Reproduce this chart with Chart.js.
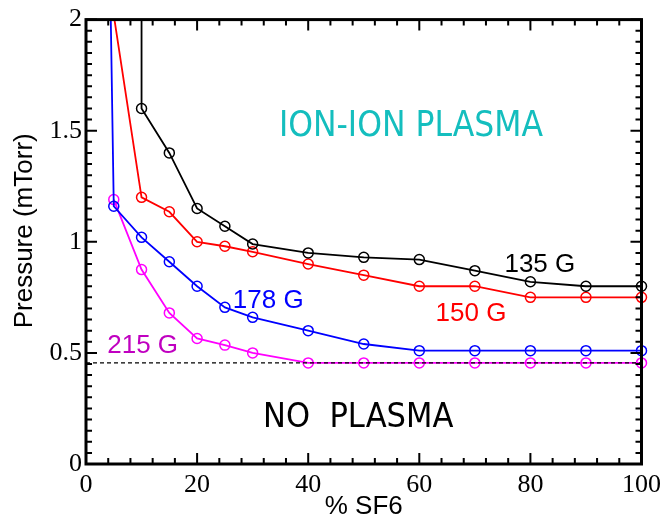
<!DOCTYPE html>
<html>
<head>
<meta charset="utf-8">
<script src="https://cdn.jsdelivr.net/npm/chart.js@4/dist/chart.umd.min.js"></script>
<style>
html,body{margin:0;padding:0;background:#fff;}
#wrap{width:667px;height:523px;position:relative;}
</style>
</head>
<body>
<div id="wrap"><canvas id="c" width="667" height="523"></canvas></div>
<script>
// ---- data ----
const sf6 = [5, 10, 15, 20, 25, 30, 40, 50, 60, 70, 80, 90, 100];
const p135 = [null, 1.60, 1.40, 1.15, 1.07, 0.99, 0.95, 0.93, 0.92, 0.87, 0.82, 0.80, 0.80];
const p150 = [null, 1.20, 1.135, 1.00, 0.98, 0.955, 0.90, 0.85, 0.80, 0.80, 0.75, 0.75, 0.75];
const p178 = [1.16, 1.02, 0.91, 0.80, 0.705, 0.66, 0.60, 0.54, 0.51, 0.51, 0.51, 0.51, 0.51];
const p215 = [1.19, 0.875, 0.68, 0.565, 0.535, 0.50, 0.455, 0.455, 0.455, 0.455, 0.455, 0.455, 0.455];
// entry points of each curve (coming in from above the plot)
const lead135 = [10, 2.6];
const lead150 = [5, 2.02];
const lead178 = [4.4, 2.1];
const thresholdX = [0, 100];
const thresholdY = [0.455, 0.455];
const xTicks = [0, 20, 40, 60, 80, 100];
const yTicks = [0, 0.5, 1, 1.5, 2];
const seriesNames = ['135 G', '150 G', '178 G', '215 G'];

function pts(xs, ys, lead) {
  const out = [];
  if (lead) out.push({x: lead[0], y: lead[1]});
  xs.forEach((x, i) => { if (ys[i] !== null) out.push({x: x, y: ys[i]}); });
  return out;
}
function radii(data, lead) { return data.map((d, i) => (lead && i === 0) ? 0 : 5); }

const d135 = pts(sf6, p135, lead135);
const d150 = pts(sf6, p150, lead150);
const d178 = pts(sf6, p178, lead178);
const d215 = pts(sf6, p215, null);

const clipOpt = {left: 8, top: 0, right: 8, bottom: 8};
function series(label, data, color, lead) {
  return {
    label: label, data: data, borderColor: color, backgroundColor: 'rgba(0,0,0,0)',
    borderWidth: 1.8, pointRadius: radii(data, lead), pointBorderWidth: 1.5,
    pointBorderColor: color, pointBackgroundColor: 'rgba(0,0,0,0)', tension: 0, clip: clipOpt
  };
}

// ---- annotations (text, data coords of baseline centre) ----
const notes = [
  {text: 'ION-ION PLASMA', x: 58.5, y: 1.478, color: 'rgb(20,190,190)', font: '35px "DejaVu Sans Condensed", "DejaVu Sans", sans-serif'},
  {text: 'NO  PLASMA', x: 49.0, y: 0.1665, color: '#000', font: '34px "DejaVu Sans Condensed", "DejaVu Sans", sans-serif'},
  {text: seriesNames[0], x: 81.7, y: 0.866, color: '#000', font: '26px "Liberation Sans", Arial, sans-serif'},
  {text: seriesNames[1], x: 69.3, y: 0.643, color: '#ff0000', font: '26px "Liberation Sans", Arial, sans-serif'},
  {text: seriesNames[2], x: 32.8, y: 0.701, color: '#0000ff', font: '26px "Liberation Sans", Arial, sans-serif'},
  {text: seriesNames[3], x: 10.2, y: 0.50, color: 'rgb(192,0,192)', font: '26px "Liberation Sans", Arial, sans-serif'}
];

const framePlugin = {
  id: 'frame',
  afterDatasetsDraw(chart) {
    const {ctx, chartArea: a, scales: {x, y}} = chart;
    ctx.save();
    ctx.strokeStyle = '#000';
    ctx.lineWidth = 2;
    ctx.beginPath();
    for (let i = 0; i <= 25; i++) {
      const v = i * 4;
      const px = x.getPixelForValue(v);
      const len = (v % 20 === 0) ? 11 : 6;
      ctx.moveTo(px, a.bottom); ctx.lineTo(px, a.bottom - len);
      ctx.moveTo(px, a.top); ctx.lineTo(px, a.top + len);
    }
    for (let i = 0; i <= 40; i++) {
      const v = i * 0.05;
      const py = y.getPixelForValue(v);
      const len = (i % 10 === 0) ? 11 : 6;
      ctx.moveTo(a.left, py); ctx.lineTo(a.left + len, py);
      ctx.moveTo(a.right, py); ctx.lineTo(a.right - len, py);
    }
    ctx.stroke();
    ctx.lineWidth = 3;
    ctx.strokeRect(a.left, a.top, a.right - a.left, a.bottom - a.top);
    // annotations
    ctx.textAlign = 'center';
    ctx.textBaseline = 'alphabetic';
    notes.forEach(n => {
      ctx.font = n.font;
      ctx.fillStyle = n.color;
      ctx.fillText(n.text, x.getPixelForValue(n.x), y.getPixelForValue(n.y));
    });
    // y axis title
    ctx.save();
    ctx.translate(25, (a.top + a.bottom) / 2 - 11);
    ctx.rotate(-Math.PI / 2);
    ctx.font = '26px "Liberation Sans", Arial, sans-serif';
    ctx.fillStyle = '#000';
    ctx.textBaseline = 'middle';
    ctx.fillText('Pressure (mTorr)', 0, 0);
    ctx.restore();
    ctx.restore();
  }
};

new Chart(document.getElementById('c'), {
  type: 'line',
  data: {
    datasets: [
      {label: 'threshold', data: pts(thresholdX, thresholdY, null), borderColor: '#000', borderWidth: 1.2,
       borderDash: [4, 3], pointRadius: 0, fill: false, clip: 0},
      series(seriesNames[0], d135, '#000000', lead135),
      series(seriesNames[1], d150, '#ff0000', lead150),
      series(seriesNames[2], d178, '#0000ff', lead178),
      series(seriesNames[3], d215, '#ff00ff', null)
    ]
  },
  options: {
    responsive: false,
    animation: false,
    events: [],
    layout: {padding: {top: 16, right: 24, left: 0, bottom: 0}},
    plugins: {legend: {display: false}, tooltip: {enabled: false}},
    scales: {
      x: {
        type: 'linear', min: 0, max: 100,
        afterBuildTicks: s => { s.ticks = xTicks.map(v => ({value: v})); },
        afterFit: s => { s.height = 59; },
        grid: {display: false, drawTicks: false},
        border: {display: false},
        ticks: {autoSkip: false, maxRotation: 0, padding: 6, color: '#000',
                callback: v => String(v),
                font: {family: '"Liberation Serif", "Times New Roman", serif', size: 26}},
        title: {display: true, text: '% SF6', color: '#000', padding: {top: 0, bottom: 3},
                font: {family: '"Liberation Sans", Arial, sans-serif', size: 26, lineHeight: 1}}
      },
      y: {
        type: 'linear', min: 0, max: 2,
        afterBuildTicks: s => { s.ticks = yTicks.map(v => ({value: v})); },
        afterFit: s => { s.width = 86; },
        grid: {display: false, drawTicks: false},
        border: {display: false},
        ticks: {padding: 4, color: '#000', callback: v => String(v),
                font: {family: '"Liberation Serif", "Times New Roman", serif', size: 26}}
      }
    }
  },
  plugins: [framePlugin]
});
</script>
</body>
</html>
